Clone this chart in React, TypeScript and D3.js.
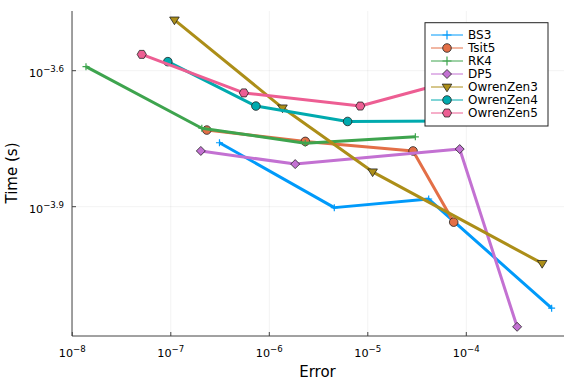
import React from "react";
import * as d3 from "d3";

const seriesNames = ["BS3", "Tsit5", "RK4", "DP5", "OwrenZen3", "OwrenZen4", "OwrenZen5"];
const seriesColors = ["#009AFA", "#E36F47", "#3EA44E", "#C371D2", "#AC8E18", "#00AAAE", "#ED5E93"];
const seriesMarkers = ["cross", "circle", "cross", "diamond", "dtriangle", "circle", "hexagon"];

const errBS3 = [3.12e-7, 4.57e-6, 4.15e-5, 7.35e-4];
const timeBS3 = [1.742e-4, 1.253e-4, 1.309e-4, 7.52e-5];
const errTsit5 = [2.32e-7, 2.32e-6, 2.88e-5, 7.45e-5];
const timeTsit5 = [1.858e-4, 1.754e-4, 1.671e-4, 1.164e-4];
const errRK4 = [1.377e-8, 2.065e-7, 2.317e-6, 3.04e-5];
const timeRK4 = [2.564e-4, 1.875e-4, 1.738e-4, 1.795e-4];
const errDP5 = [2.018e-7, 1.832e-6, 8.57e-5, 3.28e-4];
const timeDP5 = [1.671e-4, 1.563e-4, 1.687e-4, 6.84e-5];
const errOZ3 = [1.089e-7, 1.361e-6, 1.119e-5, 5.89e-4];
const timeOZ3 = [3.251e-4, 2.08e-4, 1.503e-4, 9.44e-5];
const errOZ4 = [9.33e-8, 7.31e-7, 6.24e-6, 7.74e-5];
const timeOZ4 = [2.63e-4, 2.099e-4, 1.941e-4, 1.945e-4];
const errOZ5 = [5.07e-8, 5.52e-7, 8.39e-6, 7.74e-5];
const timeOZ5 = [2.729e-4, 2.244e-4, 2.099e-4, 2.393e-4];

const errs = [errBS3, errTsit5, errRK4, errDP5, errOZ3, errOZ4, errOZ5];
const times = [timeBS3, timeTsit5, timeRK4, timeDP5, timeOZ3, timeOZ4, timeOZ5];

const xTickExps = [-8, -7, -6, -5, -4];
const yTickExps = ["-3.6", "-3.9"];
const xLabel = "Error";
const yLabel = "Time (s)";

const W = 576, H = 384;
const left = 72, right = 564, top = 11, bottom = 336;

const x = d3.scaleLog().domain([1e-8, 1e-4]).range([72.3, 466.3]);
const y = d3.scaleLog().domain([Math.pow(10, -3.9), Math.pow(10, -3.6)]).range([206.7, 70.7]);

const FONT = "'DejaVu Sans', sans-serif";

function Marker({ kind, cx, cy, color, legend }: { kind: string; cx: number; cy: number; color: string; legend?: boolean }) {
  const stroke = "#222";
  const sw = 0.8;
  if (kind === "circle") {
    return <circle cx={cx} cy={cy} r={4.3} fill={color} stroke={stroke} strokeWidth={sw} />;
  }
  if (kind === "cross") {
    const r = legend ? 4.5 : 3.5;
    return (
      <path d={`M${cx - r},${cy}H${cx + r}M${cx},${cy - r}V${cy + r}`} stroke={color} strokeWidth={1.2} fill="none" />
    );
  }
  if (kind === "diamond") {
    const r = 4.5;
    return <path d={`M${cx},${cy - r}L${cx + r},${cy}L${cx},${cy + r}L${cx - r},${cy}Z`} fill={color} stroke={stroke} strokeWidth={sw} />;
  }
  if (kind === "dtriangle") {
    const r = 4.8;
    return (
      <path
        d={`M${cx - r},${cy - r * 0.6}L${cx + r},${cy - r * 0.6}L${cx},${cy + r}Z`}
        fill={color}
        stroke={stroke}
        strokeWidth={sw}
      />
    );
  }
  if (kind === "hexagon") {
    const r = 4.6;
    const pts = d3.range(6).map((i) => {
      const a = (Math.PI / 3) * i;
      return [cx + r * Math.cos(a), cy + r * Math.sin(a)];
    });
    return <path d={"M" + pts.map((p) => p.join(",")).join("L") + "Z"} fill={color} stroke={stroke} strokeWidth={sw} />;
  }
  return null;
}

export default function App() {
  const line = d3
    .line<[number, number]>()
    .x((d) => x(d[0]))
    .y((d) => y(d[1]));

  const legX = 425, legY = 22.7, legW = 123, legH = 103.3;
  const rowH = 13;

  return (
    <svg width={W} height={H} style={{ display: "block", position: "absolute", left: 0, top: 0 }} fontFamily={FONT}>
      <rect x={0} y={0} width={W} height={H} fill="#fff" />
      {/* grid */}
      {xTickExps.map((e) => (
        <line key={"gx" + e} x1={x(Math.pow(10, e))} x2={x(Math.pow(10, e))} y1={top} y2={bottom} stroke="#000" strokeOpacity={0.1} strokeWidth={0.5} />
      ))}
      {yTickExps.map((e) => (
        <line key={"gy" + e} x1={left} x2={right} y1={y(Math.pow(10, +e))} y2={y(Math.pow(10, +e))} stroke="#000" strokeOpacity={0.1} strokeWidth={0.5} />
      ))}
      {/* series */}
      {errs.map((ex, i) => {
        const pts = ex.map((v, j) => [v, times[i][j]] as [number, number]);
        return (
          <g key={seriesNames[i]}>
            <path d={line(pts) || ""} fill="none" stroke={seriesColors[i]} strokeWidth={3} strokeLinejoin="round" />
            {pts.map((p, j) => (
              <Marker key={j} kind={seriesMarkers[i]} cx={x(p[0])} cy={y(p[1])} color={seriesColors[i]} />
            ))}
          </g>
        );
      })}
      {/* axes */}
      <line x1={left} x2={left} y1={top} y2={bottom} stroke="#444" strokeWidth={1} />
      <line x1={left} x2={right} y1={bottom} y2={bottom} stroke="#444" strokeWidth={1} />
      {xTickExps.map((e) => {
        const px = x(Math.pow(10, e));
        return (
          <g key={"tx" + e}>
            <line x1={px} x2={px} y1={bottom} y2={bottom - 4} stroke="#444" strokeWidth={1} />
            <text x={px} y={357} textAnchor="middle" fontSize={11.2} fill="#000">
              10<tspan dy={-5} fontSize={8.6}>{"\u2212" + Math.abs(e)}</tspan>
            </text>
          </g>
        );
      })}
      {yTickExps.map((e) => {
        const py = y(Math.pow(10, +e));
        return (
          <g key={"ty" + e}>
            <line x1={left} x2={left + 4} y1={py} y2={py} stroke="#444" strokeWidth={1} />
            <text x={64} y={py + 6.6} textAnchor="end" fontSize={11.2} fill="#000">
              10<tspan dy={-5} fontSize={8.6}>{"\u2212" + e.slice(1)}</tspan>
            </text>
          </g>
        );
      })}
      <text x={317.5} y={376.7} textAnchor="middle" fontSize={15} fill="#000">{xLabel}</text>
      <text transform="translate(16.7,173) rotate(-90)" textAnchor="middle" fontSize={15} fill="#000">{yLabel}</text>
      {/* legend */}
      <rect x={legX} y={legY} width={legW} height={legH} fill="#fff" stroke="#222" strokeWidth={1} />
      {seriesNames.map((n, i) => {
        const cy = 35 + i * rowH;
        return (
          <g key={"leg" + n}>
            <line x1={431} x2={463} y1={cy} y2={cy} stroke={seriesColors[i]} strokeWidth={1} />
            <Marker kind={seriesMarkers[i]} cx={447} cy={cy} color={seriesColors[i]} legend />
            <text x={468} y={cy + 4.4} fontSize={12} fill="#000">{n}</text>
          </g>
        );
      })}
    </svg>
  );
}
